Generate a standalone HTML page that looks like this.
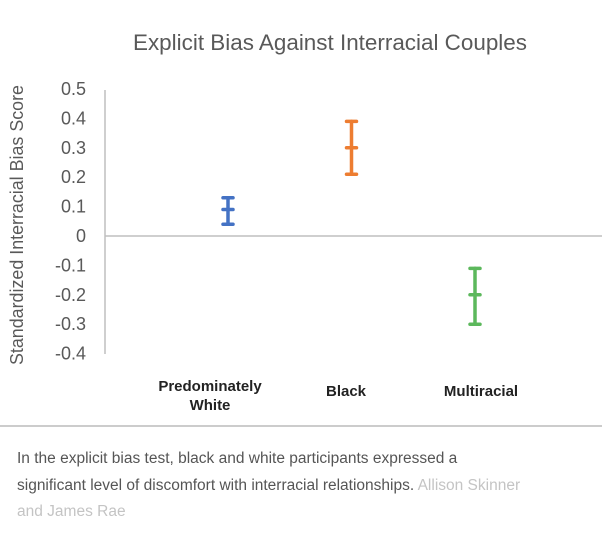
<!DOCTYPE html>
<html><head><meta charset="utf-8"><style>
body{margin:0;width:602px;height:534px;background:#fff;overflow:hidden;font-family:"Liberation Sans",sans-serif}
svg{position:absolute;left:0;top:0}
.cap{position:absolute;left:17px;top:446px;width:505px;font-size:15.5px;line-height:26.5px;color:#555}
.cred{color:#c4c4c4}
</style></head><body>
<svg width="602" height="430">
<text x="330" y="50" text-anchor="middle" font-size="22" fill="#595959" textLength="394" lengthAdjust="spacingAndGlyphs">Explicit Bias Against Interracial Couples</text>
<text transform="translate(23,225) rotate(-90)" text-anchor="middle" font-size="18" fill="#595959" textLength="280" lengthAdjust="spacingAndGlyphs">Standardized Interracial Bias Score</text>
<g id="ticks"></g>
<line x1="105" y1="90" x2="105" y2="354" stroke="#bfbfbf" stroke-width="1.5"/>
<line x1="105" y1="236" x2="602" y2="236" stroke="#bfbfbf" stroke-width="1.5"/>
<g id="marks"></g>
<text x="210" y="391" text-anchor="middle" font-size="15" font-weight="bold" fill="#222">Predominately</text>
<text x="210" y="410" text-anchor="middle" font-size="15" font-weight="bold" fill="#222">White</text>
<text x="346" y="396" text-anchor="middle" font-size="15" font-weight="bold" fill="#222">Black</text>
<text x="481" y="396" text-anchor="middle" font-size="15" font-weight="bold" fill="#222">Multiracial</text>
<line x1="0" y1="426" x2="602" y2="426" stroke="#999" stroke-width="1"/>
</svg>
<div class="cap">In the explicit bias test, black and white participants expressed a significant level of discomfort with interracial relationships. <span class="cred">Allison Skinner and James Rae</span></div>
<script>
const categories=["Predominately White","Black","Multiracial"];
const means=[0.09,0.30,-0.20];
const upper=[0.13,0.39,-0.11];
const lower=[0.04,0.21,-0.30];
const colors=["#4472c4","#ed7d31","#5cb85c"];
const tickLabels=["0.5","0.4","0.3","0.2","0.1","0","-0.1","-0.2","-0.3","-0.4"];
const tickValues=[0.5,0.4,0.3,0.2,0.1,0,-0.1,-0.2,-0.3,-0.4];
const NS="http://www.w3.org/2000/svg";
function y(v){return 236-v*294;}
function x(i){return 228+i*123.5;}
const tg=document.getElementById('ticks');
tickValues.forEach((v,i)=>{
 const t=document.createElementNS(NS,'text');
 
 
 t.setAttribute('x',86);t.setAttribute('y',y(v)+6);
 t.setAttribute('text-anchor','end');t.setAttribute('font-size','18');t.setAttribute('fill','#595959');
 t.textContent=tickLabels[i];tg.appendChild(t);
});
const mg=document.getElementById('marks');
categories.forEach((c,i)=>{
 const g=document.createElementNS(NS,'g');
 
 
 g.setAttribute('stroke',colors[i]);g.setAttribute('stroke-width','3.5');g.setAttribute('stroke-linecap','round');
 const cx=x(i);
 const segs=[[cx,y(upper[i]),cx,y(lower[i])],[cx-5,y(upper[i]),cx+5,y(upper[i])],[cx-5,y(lower[i]),cx+5,y(lower[i])],[cx-5,y(means[i]),cx+5,y(means[i])]];
 segs.forEach(s=>{const l=document.createElementNS(NS,'line');
  l.setAttribute('x1',s[0]);l.setAttribute('y1',s[1]);l.setAttribute('x2',s[2]);l.setAttribute('y2',s[3]);g.appendChild(l);});
 mg.appendChild(g);
});
</script>
</body></html>
